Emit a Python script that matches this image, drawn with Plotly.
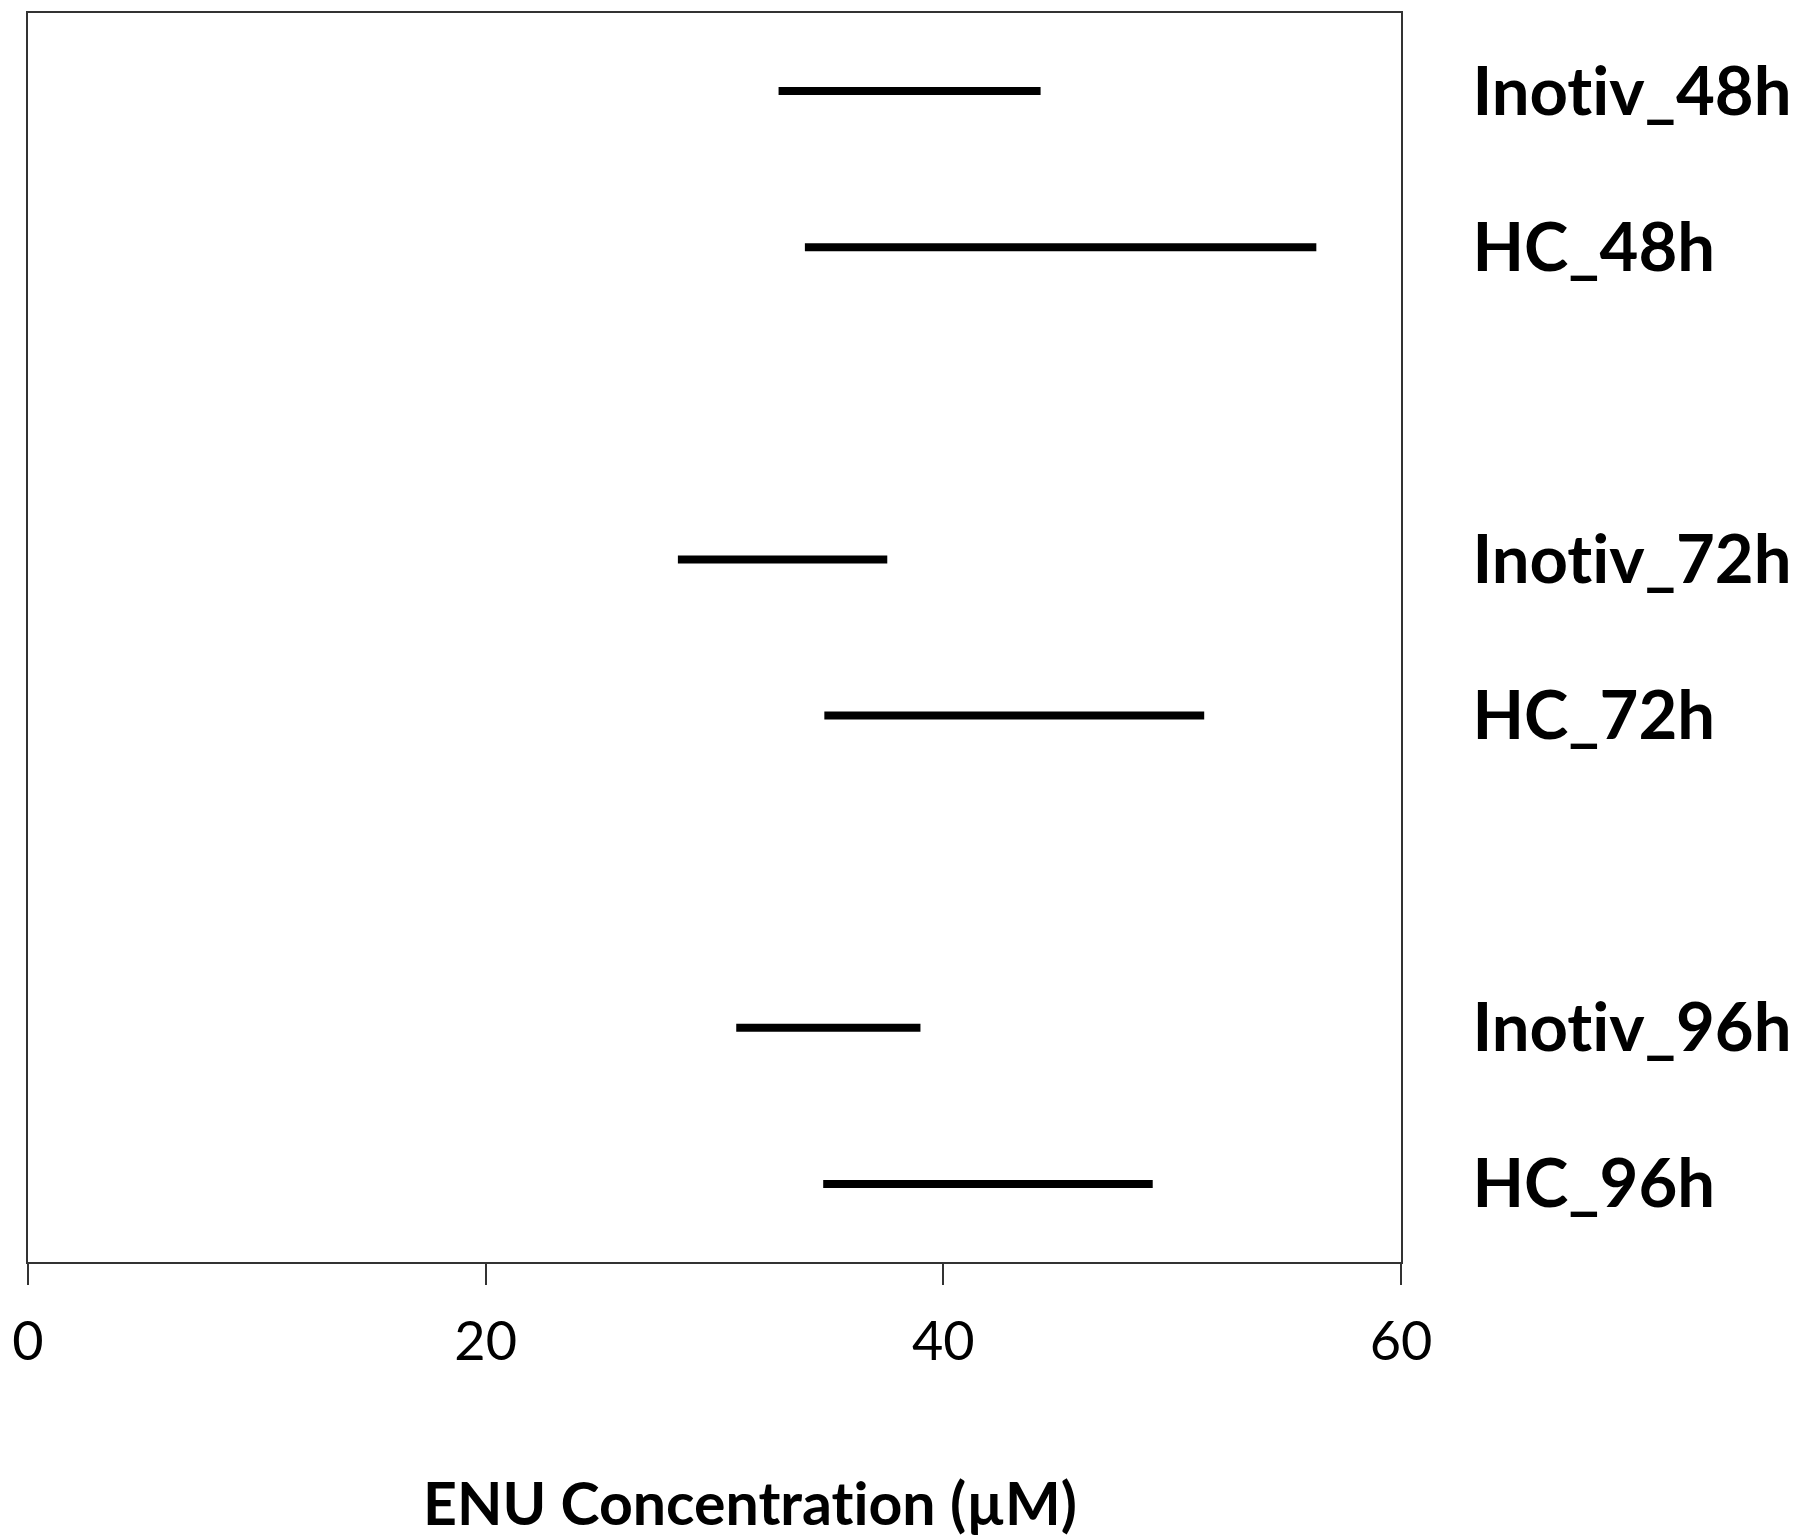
import plotly.graph_objects as go

WIDTH = 1800
HEIGHT = 1536
PAGE_PAD = 8  # default body margin of the html page

groups = ["Inotiv_48h", "HC_48h", "Inotiv_72h", "HC_72h", "Inotiv_96h", "HC_96h"]
slot = [0, 1, 3, 4, 6, 7]
low = [32.8, 33.95, 28.4, 34.8, 30.95, 34.75]
high = [44.25, 56.3, 37.55, 51.4, 39.0, 49.15]
x_ticks = [0, 20, 40, 60]

# zero-width non-joiner keeps Lato from drawing the "ti" ligature
def no_lig(s):
    return s.replace("ti", "t\u200ci")

fig = go.Figure()

for name, pos, lo, hi in zip(groups, slot, low, high):
    fig.add_trace(
        go.Scatter(
            x=[lo, hi],
            y=[pos, pos],
            mode="lines",
            line={"color": "black", "width": 8},
            name=name,
            showlegend=False,
        )
    )

m_l = 28 - PAGE_PAD
m_t = 13 - PAGE_PAD
m_r = WIDTH - 1401 + PAGE_PAD
m_b = HEIGHT - 1262 + PAGE_PAD

fig.update_layout(
    width=WIDTH,
    height=HEIGHT,
    plot_bgcolor="white",
    paper_bgcolor="white",
    margin={"l": m_l, "r": m_r, "t": m_t, "b": m_b},
    font={"family": "Lato", "color": "black"},
)

fig.update_xaxes(
    range=[0, 60],
    tickvals=x_ticks,
    ticks="outside",
    ticklen=21,
    tickwidth=2,
    tickcolor="#333333",
    tickfont={"size": 54, "family": "Lato"},
    ticklabelstandoff=10,
    showline=True,
    linecolor="#333333",
    linewidth=2,
    mirror=True,
    showgrid=False,
    zeroline=False,
    automargin=False,
)

fig.update_yaxes(
    range=[7.5, -0.5],
    side="right",
    tickvals=slot,
    ticktext=[no_lig(g) for g in groups],
    ticks="",
    tickfont={"size": 67, "family": "Lato", "weight": "bold"},
    ticklabelstandoff=56,
    showline=True,
    linecolor="#333333",
    linewidth=2,
    mirror=True,
    showgrid=False,
    zeroline=False,
    automargin=False,
)

plot_w = WIDTH - m_l - m_r
plot_h = HEIGHT - m_t - m_b
fig.add_annotation(
    text="<b>" + no_lig("ENU Concentration (µM)") + "</b>",
    x=(750 - 28) / plot_w,
    y=(1262 - 1502) / plot_h,
    xref="paper",
    yref="paper",
    xanchor="center",
    yanchor="middle",
    showarrow=False,
    font={"size": 59, "family": "Lato", "color": "black"},
)

fig.write_html("out.html")
